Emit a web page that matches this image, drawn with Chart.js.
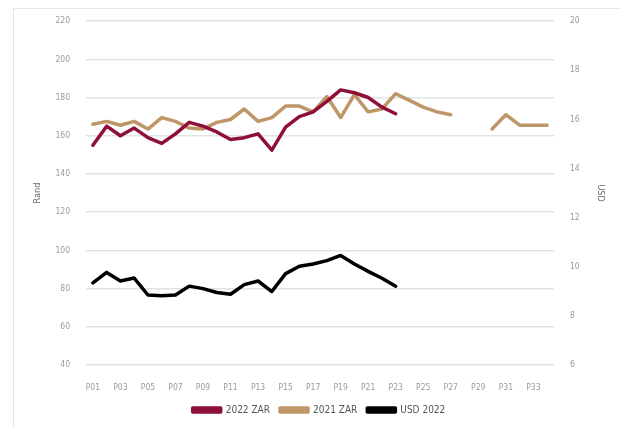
<!DOCTYPE html>
<html>
<head>
<meta charset="utf-8">
<script src="https://cdn.jsdelivr.net/npm/chart.js@4"></script>
<style>
  html, body { margin: 0; padding: 0; background: #fff; overflow: hidden; }
  #frame { position: absolute; left: 13px; top: 8px; width: 700px; height: 500px;
           border-left: 1.5px solid #e6e6e6; border-top: 1.5px solid #e6e6e6; }
  #wrap { position: absolute; left: 0; top: 0; width: 620px; height: 427px; }
</style>
</head>
<body>
<div id="frame"></div>
<div id="wrap"><canvas id="chart"></canvas></div>
<script>
const periods = ['P01','P02','P03','P04','P05','P06','P07','P08','P09','P10','P11','P12',
  'P13','P14','P15','P16','P17','P18','P19','P20','P21','P22','P23','P24','P25','P26',
  'P27','P28','P29','P30','P31','P32','P33','P34'];

// Rand per period (left axis)
const zar2022 = [155, 165, 160, 164, 159, 156, 161, 167, 165, 162, 158, 159, 161, 152.5,
  164.5, 170, 172.5, 178, 184, 182.5, 180, 175, 171.5];
const zar2021 = [166, 167.5, 165.5, 167.5, 163.5, 169.5, 167.5, 164, 163.5, 167, 168.5, 174,
  167.5, 169.5, 175.5, 175.5, 172.5, 180.5, 169.5, 181.5, 172.5, 174, 182, 178.5, 175, 172.5,
  171, null, null, 163.5, 171, 165.5, 165.5, 165.5];

// USD per period (right axis)
const usd2022 = [9.34, 9.77, 9.42, 9.54, 8.85, 8.82, 8.85, 9.21, 9.11, 8.95, 8.88, 9.27, 9.42,
  8.99, 9.72, 10.02, 10.11, 10.25, 10.46, 10.11, 9.81, 9.53, 9.21];

const tickFont = { family: "'Liberation Sans Narrow', 'DejaVu Sans Condensed', Roboto, sans-serif", size: 8.5 };
const tickColor = '#9a9a9a';

function line(label, data, color, axis) {
    return {
        label: label,
        data: data,
        yAxisID: axis,
        borderColor: color,
        backgroundColor: color,
        borderWidth: 3.5,
        pointRadius: 0,
        tension: 0,
        spanGaps: false,
        borderJoinStyle: 'round',
        borderCapStyle: 'round'
    };
}

new Chart(document.getElementById('chart'), {
    type: 'line',
    data: {
        labels: periods,
        datasets: [
            line('2022 ZAR', zar2022, '#8e1039', 'y'),
            line('2021 ZAR', zar2021, '#bf9668', 'y1'),
            line('USD 2022', usd2022, '#000000', 'y2')
        ]
    },
    options: {
        responsive: true,
        maintainAspectRatio: false,
        animation: false,
        layout: { padding: { left: 32, right: 14, top: 21, bottom: 2 } },
        scales: {
            x: {
                offset: true,
                grid: { display: false },
                border: { display: false },
                ticks: {
                    autoSkip: false,
                    maxRotation: 0,
                    padding: 10,
                    color: tickColor,
                    font: tickFont,
                    callback: function (v, i) { return i % 2 === 0 ? this.getLabelForValue(v) : ''; }
                },
                afterFit: s => { s.height = 30; }
            },
            y: {
                position: 'left',
                min: 40, max: 220,
                ticks: { stepSize: 20, padding: 16, color: tickColor, font: tickFont },
                grid: { color: '#e3e3e3', lineWidth: 1.5, drawTicks: false },
                border: { display: false },
                title: { display: true, text: 'Rand', color: '#666', font: { family: tickFont.family, size: 9 }, padding: 0 },
                afterFit: s => { s.width = 54; }
            },
            // 2021 ZAR sits on the same rand scale
            y1: {
                display: false,
                min: 40, max: 220
            },
            y2: {
                position: 'right',
                min: 6, max: 20,
                ticks: { stepSize: 2, padding: 16, color: tickColor, font: tickFont },
                grid: { display: false, drawTicks: false },
                border: { display: false },
                title: { display: true, text: 'USD', color: '#666', font: { family: tickFont.family, size: 9 }, padding: 0 },
                afterFit: s => { s.width = 52; }
            }
        },
        plugins: {
            legend: {
                position: 'bottom',
                labels: {
                    boxWidth: 28,
                    boxHeight: 4,
                    padding: 10,
                    color: '#555',
                    font: { family: tickFont.family, size: 10 }
                }
            },
            tooltip: { enabled: false }
        }
    }
});
</script>
</body>
</html>
